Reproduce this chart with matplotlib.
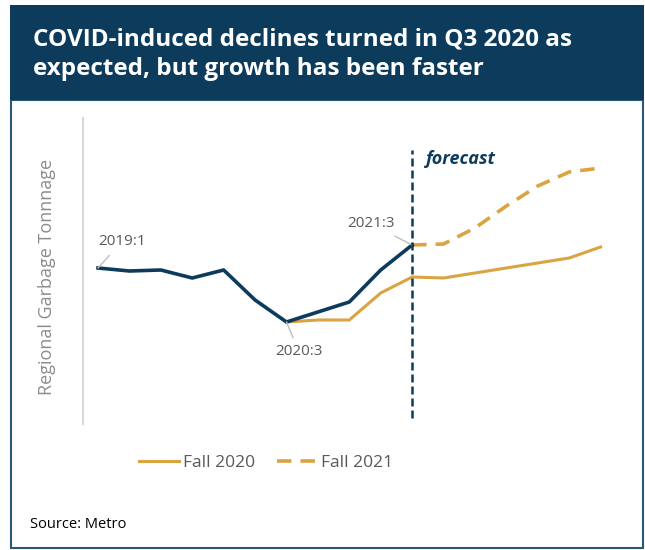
import matplotlib.pyplot as plt
from matplotlib.patches import Rectangle

# Quarterly index positions: 0 = 2019:1 ... 16 = 2023:1
quarters = ['2019:1', '2019:2', '2019:3', '2019:4', '2020:1', '2020:2', '2020:3', '2020:4',
            '2021:1', '2021:2', '2021:3', '2021:4', '2022:1', '2022:2', '2022:3', '2022:4', '2023:1']

# Actual tonnage (index, 2019:1 = 100), 2019:1 to 2021:3
actual = [100.0, 99.4, 99.6, 98.0, 99.6, 93.6, 89.2, 91.2, 93.2, 99.6, 104.6]
# Fall 2020 forecast, 2020:3 to 2023:1
fall2020 = [89.2, 89.6, 89.6, 95.0, 98.2, 98.0, 99.0, 100.0, 101.0, 102.0, 104.2]
# Fall 2021 forecast, 2021:3 to 2023:1
fall2021 = [104.6, 104.8, 108.0, 112.4, 116.4, 119.2, 120.0]

W, H = 645, 550
navy = '#0D3B5C'
gold = '#D9A441'
grey = '#595959'

plt.rcParams['font.family'] = ['Open Sans', 'DejaVu Sans']

fig = plt.figure(figsize=(W / 100, H / 100), dpi=100)

# frame and title band
fig.patches.append(Rectangle((11 / W, 1 - 548 / H), 632 / W, 448 / H, transform=fig.transFigure,
                             facecolor='white', edgecolor='#2A5877', lw=1.5, zorder=-2))
fig.patches.append(Rectangle((10 / W, 1 - 100 / H), 634 / W, 95 / H, transform=fig.transFigure,
                             facecolor=navy, edgecolor='none', zorder=-1))
fig.text(33 / W, 1 - 54 / H, 'COVID-induced declines turned in Q3 2020 as\nexpected, but growth has been faster',
         color='white', fontsize=17.5, fontweight='bold', va='center', ha='left', linespacing=1.3)

ax = fig.add_axes([83 / W, 1 - 424 / H, (610 - 83) / W, (424 - 118) / H])
ax.patch.set_alpha(0)

x_act = list(range(0, 11))
x_f20 = list(range(6, 17))
x_f21 = list(range(10, 17))

ax.plot(x_f20, fall2020, color=gold, lw=2.2, solid_joinstyle='round', label='Fall 2020', zorder=2)
ax.plot(x_f21, fall2021, color=gold, lw=2.6, ls=(0, (4, 2.5)), label='Fall 2021', zorder=2)
ax.plot(x_act, actual, color=navy, lw=2.6, solid_joinstyle='round', zorder=3)

ax.axvline(10, ymin=0.02, ymax=0.895, color=navy, lw=1.8, ls=(0, (3.2, 1.6)), zorder=4)
ax.text(10.45, 121.8, 'forecast', color=navy, fontsize=13, fontstyle='italic', fontweight='bold',
        va='center', ha='left')

# point labels with leader lines
ann = dict(color=grey, fontsize=11, ha='center', va='center')
lead = dict(arrowstyle='-', color='#BFBFBF', lw=1, shrinkA=3, shrinkB=0)
ax.annotate('2019:1', xy=(0, actual[0]), xytext=(0.75, 105.2), arrowprops=lead, **ann)
ax.annotate('2020:3', xy=(6, actual[6]), xytext=(6.4, 83.2), arrowprops=lead, **ann)
ax.annotate('2021:3', xy=(10, actual[10]), xytext=(8.7, 108.8), arrowprops=lead, **ann)

ax.set_xlim(-0.478, 16.3)
ax.set_ylim(68.8, 130)
ax.set_xticks([])
ax.set_yticks([])
for s in ['top', 'right', 'bottom']:
    ax.spines[s].set_visible(False)
ax.spines['left'].set_color('#D9D9D9')
ax.spines['left'].set_linewidth(1.5)

fig.text(47 / W, 1 - 277 / H, 'Regional Garbage Tonnnage', rotation=90, color='#8C8C8C',
         fontsize=13, ha='center', va='center')

leg = fig.legend(loc='center', bbox_to_anchor=(266 / W, 1 - 463 / H), ncol=2, frameon=False,
                 fontsize=12.5, handlelength=2.3, handletextpad=0.2, columnspacing=1.3)
for t in leg.get_texts():
    t.set_color(grey)

fig.text(30 / W, 1 - 524 / H, 'Source: Metro', color='black', fontsize=10.5, ha='left', va='center')

fig.savefig('out.png', dpi=100)
